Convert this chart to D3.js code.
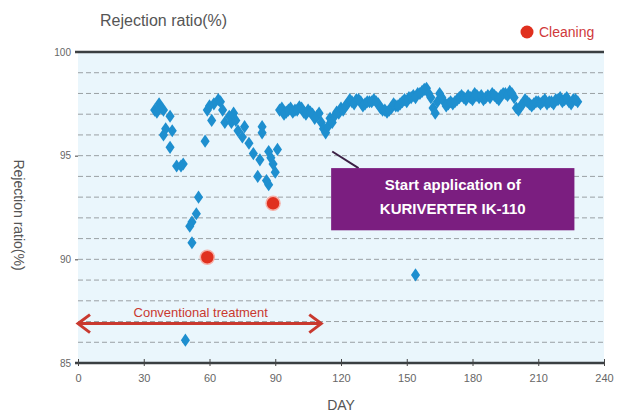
<!DOCTYPE html>
<html><head><meta charset="utf-8">
<script src="https://cdn.jsdelivr.net/npm/d3@7"></script>
<style>body{margin:0;background:#fff}svg{display:block;font-family:"Liberation Sans",Arial,sans-serif}</style>
</head><body><div id="chart"></div>
<script>
const xTicks = [0,30,60,90,120,150,180,210,240];
const yTickLabels = [85,90,95,100];
const gridValues = [86,87,88,89,90,91,92,93,94,95,96,97,98,99];
// Conventional treatment period (before IK-110)
const earlyDays = [35,37,38,39,40,39,42,43,42,45,48,55,54,52,51,52,49,58,59,61,62,64,66,67,70,72,71,73,75,78,80,82,83,84,84,87,88,87,90,91,89,76,86,36,47,60,65,69];
const earlyVals = [97.2,97.5,97.3,97.2,96.3,96.0,96.9,96.2,95.4,94.5,94.6,93.0,92.2,91.8,91.6,90.8,86.1,95.7,97.2,96.7,97.5,97.7,97.2,96.6,96.6,96.7,97.05,96.2,95.9,95.6,95.1,94.0,94.8,96.4,96.1,95.2,94.9,93.6,94.2,95.3,94.6,96.4,93.8,97.1,94.5,97.4,97.6,96.9];
// After start of KURIVERTER IK-110
const lateDays = [92,93,95,97,99,101,103,105,107,109,110,111,112,113,114,115,117,119,121,123,125,127,129,131,133,135,137,139,141,143,145,147,149,151,153,155,157,159,161,162,163,164,165,167,169,171,173,175,177,179,181,183,185,187,189,191,193,195,197,199,200,201,202,204,206,208,210,212,214,216,218,220,222,224,226,228,154,
  94,96,98,100,102,104,106,108,116,118,120,122,124,126,128,130,132,134,136,138,140,142,144,146,148,150,152,154,156,158,160,166,168,170,172,174,176,178,180,182,184,186,188,190,192,194,196,198,203,205,207,209,211,213,215,217,219,221,223,225,227];
const lateVals = [97.2,97.3,97.1,97.3,97.2,97.35,97.1,97.2,97.0,96.9,97.05,96.6,96.3,96.1,96.4,96.8,96.9,97.05,97.2,97.5,97.6,97.7,97.6,97.5,97.6,97.7,97.5,97.2,97.1,97.3,97.4,97.5,97.7,97.8,97.9,98.0,98.1,98.25,97.8,97.3,97.05,97.6,98.0,97.6,97.5,97.5,97.7,97.9,97.7,97.8,98.0,97.8,97.7,97.9,98.0,97.8,97.9,98.0,98.1,97.8,97.3,97.2,97.4,97.7,97.5,97.5,97.6,97.6,97.5,97.6,97.7,97.8,97.7,97.6,97.7,97.6,89.25,
  97.0,97.2,97.1,97.2,97.3,97.0,97.1,96.8,96.6,97.1,97.3,97.4,97.7,97.5,97.7,97.4,97.6,97.6,97.6,97.3,97.2,97.2,97.5,97.4,97.6,97.6,97.8,97.8,98.0,98.2,98.0,97.8,97.4,97.6,97.6,97.8,97.8,97.9,97.7,97.9,97.9,97.8,97.8,97.9,97.7,98.0,97.9,98.0,97.5,97.6,97.4,97.6,97.5,97.7,97.6,97.5,97.7,97.6,97.8,97.5,97.7];
// Cleaning events
const cleanDays = [59,89];
const cleanVals = [90.1,92.7];

const W=619,H=416;
const svg=d3.select("#chart").append("svg").attr("width",W).attr("height",H);
const x=d3.scaleLinear().domain([0,240]).range([78,604]);
const y=d3.scaleLinear().domain([85,100]).range([363,52]);

svg.append("rect").attr("x",x(0)).attr("y",y(100)).attr("width",x(240)-x(0)).attr("height",y(85)-y(100)).attr("fill","#eaf6fc");

svg.selectAll(".grid").data(gridValues).join("line")
  .attr("x1",x(0)).attr("x2",x(240)).attr("y1",d=>y(d)).attr("y2",d=>y(d))
  .attr("stroke","#9aa0a4").attr("stroke-width",1).attr("stroke-dasharray","5,3");

[100,85].forEach(v=>svg.append("line").attr("x1",x(0)-3).attr("x2",x(240)).attr("y1",y(v)).attr("y2",y(v))
  .attr("stroke","#3a3f42").attr("stroke-width",2.5));

// x axis
const xAxis=d3.axisBottom(x).tickValues(xTicks).tickSize(4).tickFormat(d3.format("d"));
const gx=svg.append("g").attr("transform",`translate(0,${y(85)})`).call(xAxis);
gx.select(".domain").remove();
gx.selectAll(".tick line").attr("y1",-4).attr("y2",3).attr("stroke","#444");
gx.selectAll(".tick text").attr("y",11).attr("fill","#666").attr("font-size",11).attr("font-family","Liberation Sans, Arial, sans-serif");

// y axis labels
const yAxis=d3.axisLeft(y).tickValues(yTickLabels).tickSize(3).tickFormat(d3.format("d"));
const gy=svg.append("g").attr("transform",`translate(${x(0)},0)`).call(yAxis);
gy.select(".domain").remove();
gy.selectAll(".tick line").attr("stroke","#444");
gy.selectAll(".tick text").attr("x",-7).attr("fill","#666").attr("font-size",10).attr("font-family","Liberation Sans, Arial, sans-serif");

// points
const diamond=d3.symbol().type(d3.symbolDiamond).size(50);
const early=earlyDays.map((d,i)=>({d,v:earlyVals[i]}));
const late=lateDays.map((d,i)=>({d,v:lateVals[i]}));
svg.selectAll(".pe").data(early.concat(late)).join("path")
  .attr("d",diamond).attr("transform",p=>`translate(${x(p.d)},${y(p.v)}) scale(1.2,1)`)
  .attr("fill","#1e8fcf");

svg.selectAll(".cl").data(cleanDays.map((d,i)=>({d,v:cleanVals[i]}))).join("circle")
  .attr("cx",p=>x(p.d)).attr("cy",p=>y(p.v)).attr("r",7).attr("fill","#e0301e")
  .attr("stroke","#f6b0a8").attr("stroke-width",1.5);

// Conventional treatment arrow
const red="#c9392f";
const ay=y(86.9);
svg.append("line").attr("x1",x(0)).attr("x2",x(111)).attr("y1",ay).attr("y2",ay).attr("stroke",red).attr("stroke-width",3);
svg.append("path").attr("d",`M${x(0)+12},${ay-9} L${x(0)},${ay} L${x(0)+12},${ay+9}`).attr("fill","none").attr("stroke",red).attr("stroke-width",3);
svg.append("path").attr("d",`M${x(111)-12},${ay-9} L${x(111)},${ay} L${x(111)-12},${ay+9}`).attr("fill","none").attr("stroke",red).attr("stroke-width",3);
svg.append("text").attr("x",x(56)).attr("y",ay-7).attr("text-anchor","middle").attr("fill",red).attr("font-size",13).text("Conventional treatment");

// Annotation
svg.append("line").attr("x1",x(116)).attr("y1",y(95.2)).attr("x2",x(128)).attr("y2",y(94.4)).attr("stroke","#3b1f44").attr("stroke-width",2);
svg.append("rect").attr("x",x(115.5)).attr("y",y(94.4)).attr("width",x(226.5)-x(115.5)).attr("height",y(91.4)-y(94.4)).attr("fill","#7b1e80");
const ann=svg.append("text").attr("x",x(171)).attr("text-anchor","middle").attr("fill","#fff").attr("font-weight","bold").attr("font-size",15);
ann.append("tspan").attr("x",x(171)).attr("y",y(93.35)).text("Start application of");
ann.append("tspan").attr("x",x(171)).attr("y",y(92.2)).text("KURIVERTER IK-110");

// titles
svg.append("text").attr("x",100).attr("y",26).attr("fill","#555").attr("font-size",16).text("Rejection ratio(%)");
svg.append("text").attr("transform","translate(14,215) rotate(90)").attr("text-anchor","middle").attr("fill","#555").attr("font-size",14).text("Rejection ratio(%)");
svg.append("text").attr("x",x(120)).attr("y",410).attr("text-anchor","middle").attr("fill","#555").attr("font-size",14).text("DAY");

// legend
svg.append("circle").attr("cx",527).attr("cy",32).attr("r",6.5).attr("fill","#e0301e");
svg.append("text").attr("x",539).attr("y",37).attr("fill","#d0393b").attr("font-size",14).text("Cleaning");
</script></body></html>
